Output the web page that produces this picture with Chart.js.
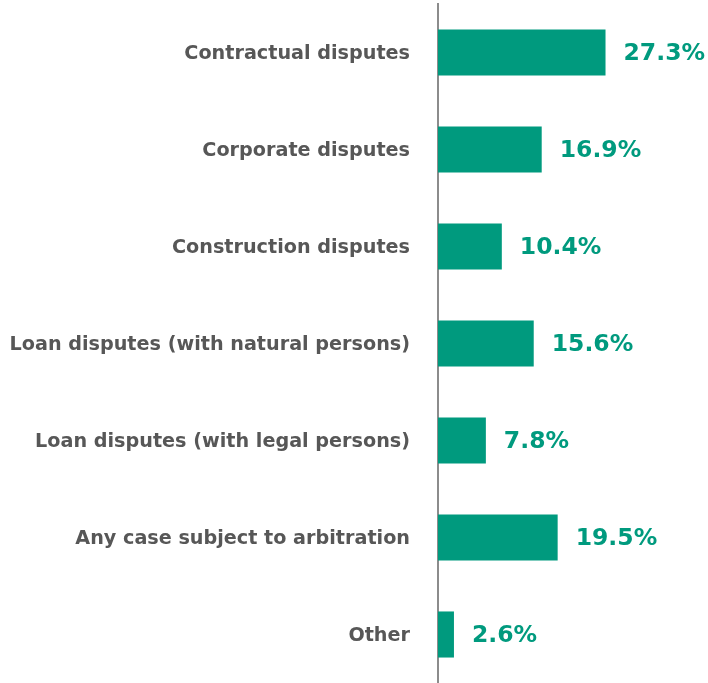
<!DOCTYPE html>
<html>
<head>
<meta charset="utf-8">
<script src="https://cdn.jsdelivr.net/npm/chart.js@4"></script>
<style>
  html, body { margin: 0; padding: 0; background: #fff; }
  #wrap { width: 708px; height: 683px; position: relative; }
</style>
</head>
<body>
<div id="wrap"><canvas id="disputeChart"></canvas></div>
<script>
const categories = [
  'Contractual disputes',
  'Corporate disputes',
  'Construction disputes',
  'Loan disputes (with natural persons)',
  'Loan disputes (with legal persons)',
  'Any case subject to arbitration',
  'Other'
];
const shares = [27.3, 16.9, 10.4, 15.6, 7.8, 19.5, 2.6];

const teal = '#009a7e';
const fontFamily = '"DejaVu Sans", sans-serif';

// 柱子右侧的百分比标签
const valueLabels = {
  id: 'valueLabels',
  afterDatasetsDraw(chart) {
    const ctx = chart.ctx;
    const meta = chart.getDatasetMeta(0);
    ctx.save();
    ctx.font = 'bold 23.5px ' + fontFamily;
    ctx.fillStyle = teal;
    ctx.textAlign = 'left';
    ctx.textBaseline = 'middle';
    meta.data.forEach((bar, i) => {
      ctx.fillText(shares[i].toFixed(1) + '%', bar.x + 18, bar.y + 1);
    });
    ctx.restore();
  }
};

new Chart(document.getElementById('disputeChart'), {
  type: 'bar',
  data: {
    labels: categories,
    datasets: [{
      data: shares,
      backgroundColor: teal,
      barPercentage: 0.95,
      categoryPercentage: 0.5
    }]
  },
  plugins: [valueLabels],
  options: {
    indexAxis: 'y',
    responsive: true,
    maintainAspectRatio: false,
    animation: false,
    layout: { padding: { top: 4, right: 0, bottom: 0, left: 0 } },
    plugins: {
      legend: { display: false },
      tooltip: { enabled: false }
    },
    scales: {
      x: {
        display: false,
        min: 0,
        max: 44
      },
      y: {
        // 固定轴宽, 去掉标签带来的上下留白
        afterFit(scale) {
          scale.width = 438;
          scale.paddingTop = 0;
          scale.paddingBottom = 0;
        },
        grid: { display: false, drawTicks: false },
        border: { display: true, color: '#8c8c8c', width: 2 },
        ticks: {
          color: '#575757',
          padding: 28,
          labelOffset: 2,
          font: { family: fontFamily, size: 19.2, weight: 'bold' }
        }
      }
    }
  }
});
</script>
</body>
</html>
